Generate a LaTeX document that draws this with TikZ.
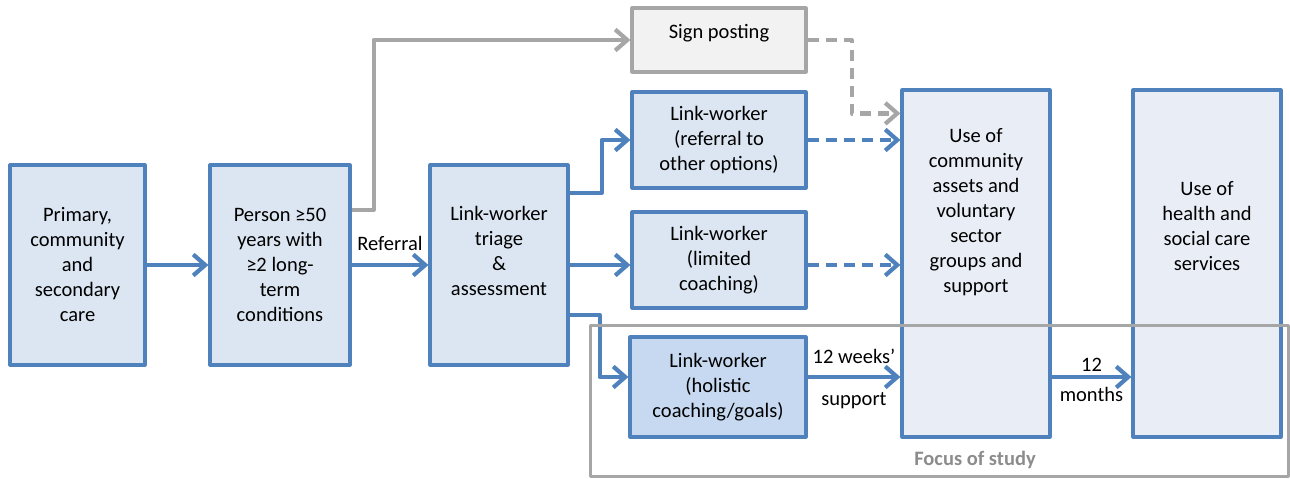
\documentclass[tikz,border=0pt]{standalone}
\usepackage{fontspec}
\setmainfont{Carlito}
\usetikzlibrary{arrows.meta}
\definecolor{boxline}{HTML}{4F81BD}
\definecolor{boxfill}{HTML}{DCE6F2}
\definecolor{holfill}{HTML}{C6D9F1}
\definecolor{usefill}{HTML}{E9EEF6}
\definecolor{greyline}{HTML}{A6A6A6}
\definecolor{greyfill}{HTML}{F2F2F2}
\definecolor{greytext}{HTML}{8C8C8C}
\begin{document}
\begin{tikzpicture}[x=1pt,y=-1pt,>={Straight Barb[length=12pt,width=21pt]},line join=round,
	font=\fontsize{20.5}{25}\selectfont,
	box/.style={draw=boxline,fill=boxfill,line width=3.2pt,align=center,inner sep=0pt},
	greybox/.style={box,draw=greyline,fill=greyfill},
	txt/.style={align=center,inner sep=0pt},
	blu/.style={draw=boxline,line width=4.2pt,->},
	gry/.style={draw=greyline,line width=4.2pt,->},
	dsh/.style={dash pattern=on 11pt off 7pt}]
	\useasboundingbox (0,0) rectangle (1290,479);
	\def \wl{174}
	\def \hl{96}
	% left column
	\node[box,minimum width=135,minimum height=200] (prim) at (77.5,265) {Primary,\\community\\and\\secondary\\care};
	\node[box,minimum width=140,minimum height=200] (pers) at (280,265) {Person ≥50\\years with\\≥2 long-\\term\\conditions};
	\node[box,minimum width=138,minimum height=200] (tri) at (499,265) {};
	\node[txt] (tritxt) at (499,251) {Link-worker\\triage\\\&\\assessment};
	% middle column
	\node[greybox,minimum width=\wl,minimum height=64] (sign) at (719,40) {};
	\node[txt] (signtxt) at (719,33) {Sign posting};
	\node[box,minimum width=\wl,minimum height=\hl] (ref) at (719,140) {Link-worker\\(referral to\\other options)};
	\node[box,minimum width=\wl,minimum height=\hl] (lim) at (719,260) {Link-worker\\(limited\\coaching)};
	\node[box,fill=holfill,minimum width=176,minimum height=100] (hol) at (718,387) {Link-worker\\(holistic\\coaching/goals)};
	% right column
	\node[box,fill=usefill,minimum width=148,minimum height=347] (comm) at (976,263.5) {};
	\node[txt] (commtxt) at (976,212) {Use of\\community\\assets and\\voluntary\\sector\\groups and\\support};
	\node[box,fill=usefill,minimum width=148,minimum height=347] (hlth) at (1207,263.5) {};
	\node[txt] (hlthtxt) at (1207,226) {Use of\\health and\\social care\\services};
	\coordinate (row) at (0,377);
	% connectors
	\draw[blu] (prim.east) -- (pers.west);
	\draw[blu] (pers.east) -- node[above,inner sep=4pt,yshift=8pt] {Referral} (tri.west);
	\draw[gry] ([yshift=55]pers.east) -- ++(22,0) |- (sign.west);
	\draw[blu] ([yshift=72]tri.east) -- ++(32,0) |- (ref.west);
	\draw[blu] (tri.east) -- (tri.east -| lim.west);
	\draw[blu] ([yshift=-50]tri.east) -- ++(30,0) |- (row -| hol.west);
	\draw[gry,dsh] (sign.east) -- ++(44,0) |- ([yshift=-25]comm.north west);
	\draw[blu,dsh] (ref.east) -- (ref.east -| comm.west);
	\draw[blu,dsh] (tri.east -| lim.east) -- (tri.east -| comm.west);
	\draw[blu] (row -| hol.east) -- node[above,inner sep=2pt,yshift=9pt] {12 weeks’} node[below,inner sep=2pt,yshift=-11pt] {support} (row -| comm.west);
	\draw[blu] (row -| comm.east) -- node[above,inner sep=1pt,yshift=2pt] {12} node[below,inner sep=2pt,yshift=-6pt] {months} (row -| hlth.west);
	% focus frame
	\draw[greyline,line width=3pt] (590,325) rectangle (1288,476);
	\node[txt,text=greytext,font=\fontsize{20.5}{25}\selectfont\bfseries] (focus) at (975,460) {Focus of study};
\end{tikzpicture}
\end{document}
